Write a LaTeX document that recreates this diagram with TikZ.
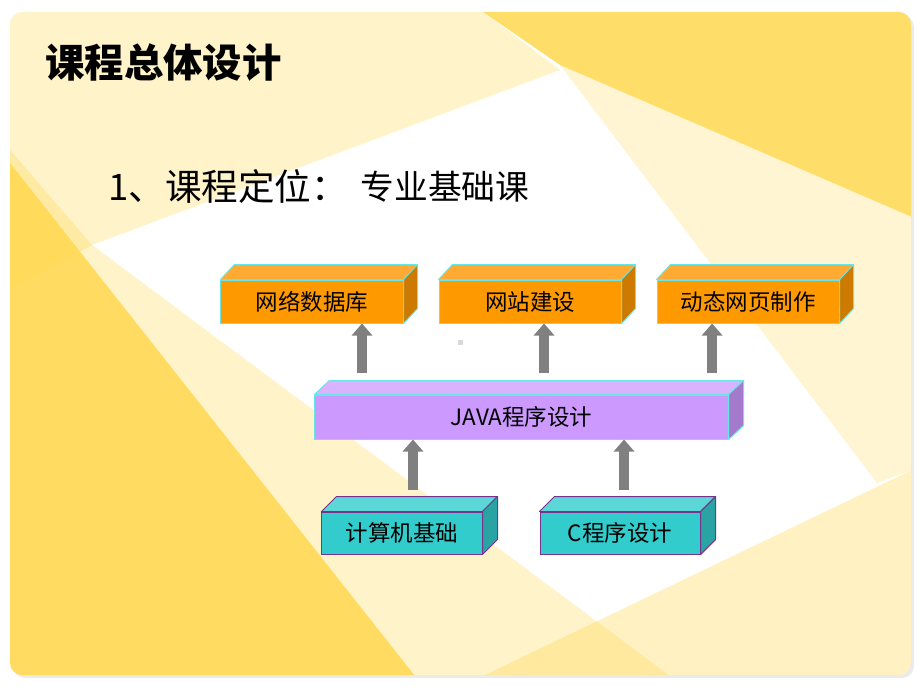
\documentclass[tikz,border=0pt]{standalone}
\usepackage{fontspec}
\setmainfont{Noto Sans CJK SC}
\definecolor{sunyellow}{RGB}{255, 216, 79}
\definecolor{orangefront}{RGB}{255, 153, 0}
\definecolor{orangetop}{RGB}{255, 170, 51}
\definecolor{orangeside}{RGB}{204, 122, 0}
\definecolor{purplefront}{RGB}{204, 153, 255}
\definecolor{purpletop}{RGB}{217, 179, 255}
\definecolor{purpleside}{RGB}{163, 122, 204}
\definecolor{tealfront}{RGB}{51, 204, 204}
\definecolor{tealtop}{RGB}{92, 214, 214}
\definecolor{tealside}{RGB}{41, 163, 163}
\definecolor{cyanline}{RGB}{102, 230, 230}
\definecolor{plumline}{RGB}{122, 50, 140}
\definecolor{arrowgray}{RGB}{128, 128, 128}
\usetikzlibrary{arrows.meta, positioning, calc}

\begin{document}
\begin{tikzpicture}[x=0.025cm, y=-0.025cm,
  front/.style={draw, line width=0.7pt, minimum height=1.075cm, inner sep=0pt, font=\fontsize{16}{16}\selectfont},
  face/.style={line width=0.7pt, line join=round},
  uparrow/.style={draw=arrowgray, line width=0.25cm, -{Triangle[length=0.3cm, width=0.5cm]}}]
  \useasboundingbox (0,0) rectangle (920,690);

  % === Slide background ===
  \fill[black!8, rounded corners=0.3cm] (13,15) rectangle (914,678);
  \begin{scope}
    \clip[rounded corners=0.3cm] (10,12) rectangle (911,675);
    \fill[white] (10,12) rectangle (911,675);
    % pale rays
    \fill[sunyellow, opacity=0.3] (10,12) -- (483,12) -- (560,70) -- (92,245) -- (10,290) -- cycle;
    \fill[sunyellow, opacity=0.3] (10,150) -- (92,245) -- (670,676) -- (10,676) -- cycle;
    \fill[sunyellow, opacity=0.25] (560,65) -- (912,217) -- (912,470) -- (877,483) -- cycle;
    \fill[sunyellow, opacity=0.35] (483,676) -- (912,470) -- (912,676) -- cycle;
    % strong rays
    \fill[sunyellow, opacity=0.85] (10,163) -- (415,676) -- (10,676) -- cycle;
    \fill[sunyellow, opacity=0.85] (483,12) -- (912,12) -- (912,217) -- (560,65) -- cycle;
  \end{scope}

  % === Headings ===
  \node[font=\fontsize{28}{28}\selectfont\bfseries, anchor=west, inner sep=0pt] (title) at (45,63) {课程总体设计};
  \node[font=\fontsize{26}{26}\selectfont, anchor=west, inner sep=0pt] (position) at (108,187) {1、课程定位：};
  \node[font=\fontsize{24}{24}\selectfont, inner sep=0pt, right=0.3cm of position] (basic) {专业基础课};

  % === Top row: follow-up courses ===
  \node[front, fill=orangefront, draw=cyanline, minimum width=4.55cm] (netdb) at (312,301.5) {网络数据库};
  \node[front, fill=orangefront, draw=cyanline, minimum width=4.55cm, right=0.875cm of netdb] (website) {网站建设};
  \node[front, fill=orangefront, draw=cyanline, minimum width=4.55cm, right=0.875cm of website] (dynpage) {动态网页制作};

  \filldraw[face, fill=orangetop, draw=cyanline] (netdb.north west) -- ++(14,-15) -- ($(netdb.north east)+(14,-15)$) -- (netdb.north east) -- cycle;
  \filldraw[face, fill=orangeside, draw=cyanline] (netdb.north east) -- ++(14,-15) -- ($(netdb.south east)+(14,-15)$) -- (netdb.south east) -- cycle;
  \filldraw[face, fill=orangetop, draw=cyanline] (website.north west) -- ++(14,-15) -- ($(website.north east)+(14,-15)$) -- (website.north east) -- cycle;
  \filldraw[face, fill=orangeside, draw=cyanline] (website.north east) -- ++(14,-15) -- ($(website.south east)+(14,-15)$) -- (website.south east) -- cycle;
  \filldraw[face, fill=orangetop, draw=cyanline] (dynpage.north west) -- ++(14,-15) -- ($(dynpage.north east)+(14,-15)$) -- (dynpage.north east) -- cycle;
  \filldraw[face, fill=orangeside, draw=cyanline] (dynpage.north east) -- ++(14,-15) -- ($(dynpage.south east)+(14,-15)$) -- (dynpage.south east) -- cycle;

  % === Middle: JAVA ===
  \node[front, fill=purplefront, draw=cyanline, minimum width=10.325cm, minimum height=1.1cm] (java) at (521.5,417) {JAVA程序设计};
  \filldraw[face, fill=purpletop, draw=cyanline] (java.north west) -- ++(15,-14) -- ($(java.north east)+(15,-14)$) -- (java.north east) -- cycle;
  \filldraw[face, fill=purpleside, draw=cyanline] (java.north east) -- ++(15,-14) -- ($(java.south east)+(15,-14)$) -- (java.south east) -- cycle;

  % === Bottom row: prerequisites ===
  \node[front, fill=tealfront, draw=plumline, minimum width=4cm, minimum height=1.05cm] (basics) at (402,533) {计算机基础};
  \node[front, fill=tealfront, draw=plumline, minimum width=4cm, minimum height=1.05cm, right=1.425cm of basics] (cprog) {C程序设计};
  \filldraw[face, fill=tealtop, draw=plumline] (basics.north west) -- ++(15,-15) -- ($(basics.north east)+(15,-15)$) -- (basics.north east) -- cycle;
  \filldraw[face, fill=tealside, draw=plumline] (basics.north east) -- ++(15,-15) -- ($(basics.south east)+(15,-15)$) -- (basics.south east) -- cycle;
  \filldraw[face, fill=tealtop, draw=plumline] (cprog.north west) -- ++(15,-15) -- ($(cprog.north east)+(15,-15)$) -- (cprog.north east) -- cycle;
  \filldraw[face, fill=tealside, draw=plumline] (cprog.north east) -- ++(15,-15) -- ($(cprog.south east)+(15,-15)$) -- (cprog.south east) -- cycle;

  % === Arrows ===
  \coordinate (javatop) at ($(java.north)+(0,-22)$);
  \coordinate (basetop) at ($(basics.north)+(0,-22)$);
  \coordinate (up1) at ([xshift=1.25cm]netdb.south);
  \coordinate (up2) at ([xshift=0.35cm]website.south);
  \coordinate (up3) at ([xshift=-0.9cm]dynpage.south);
  \coordinate (low1) at ([xshift=0.275cm]basics.north);
  \coordinate (low2) at ([xshift=0.1cm]cprog.north);
  \draw[uparrow] (javatop -| up1) -- (up1);
  \draw[uparrow] (javatop -| up2) -- (up2);
  \draw[uparrow] (javatop -| up3) -- (up3);
  \draw[uparrow] (basetop -| low1) -- (java.south -| low1);
  \draw[uparrow] (basetop -| low2) -- (java.south -| low2);

  % stray mark
  \fill[black!15] (458,340) rectangle (463,345);
\end{tikzpicture}
\end{document}
